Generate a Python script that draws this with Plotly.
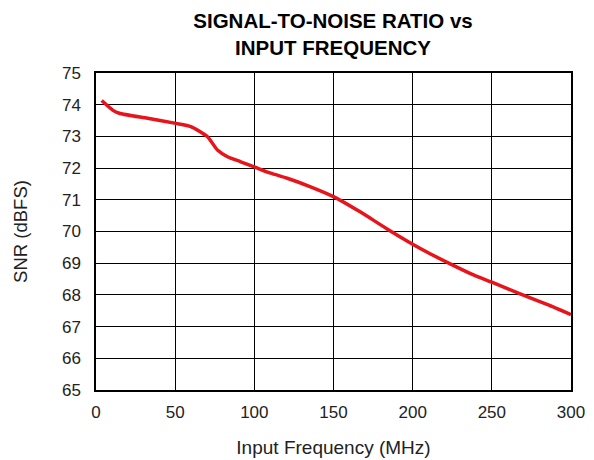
import plotly.graph_objects as go

freq_mhz = [3.6, 10.5, 14.7, 32.6, 50.4, 59.9, 70.4, 76.7, 83, 91.4, 100.8, 110.3,
            120.8, 135.5, 150, 166.8, 183.6, 200, 211, 223.7, 238.4, 250, 267.9,
            284.8, 300]
snr_dbfs = [74.13, 73.83, 73.73, 73.57, 73.41, 73.31, 72.99, 72.57, 72.36, 72.2,
            72.02, 71.84, 71.68, 71.41, 71.1, 70.62, 70.09, 69.6, 69.3, 68.98,
            68.63, 68.4, 68.03, 67.7, 67.38]

x_ticks = [0, 50, 100, 150, 200, 250, 300]
y_ticks = list(range(65, 76))

fig = go.Figure()
fig.add_trace(go.Scatter(x=freq_mhz, y=snr_dbfs, mode="lines",
                         line=dict(color="#e8141c", width=3.5, shape="spline", smoothing=0.6),
                         showlegend=False))

font = "Liberation Sans, Arial, sans-serif"
W, H = 586, 452
fig.update_layout(
    width=W, height=H,
    margin=dict(l=88, r=23, t=65, b=70),
    paper_bgcolor="white", plot_bgcolor="white",
    font=dict(family=font, size=17, color="#222"),
    title=dict(text="<b>SIGNAL-TO-NOISE RATIO vs<br>INPUT FREQUENCY</b>",
               x=325 / W, xanchor="center", yref="container", y=1 - 20 / H, yanchor="top",
               font=dict(family=font, size=20.5, color="black")),
    xaxis=dict(range=[0, 300], tickvals=x_ticks, showgrid=True, gridcolor="black",
               gridwidth=1, showline=True, linecolor="black", linewidth=1.5, mirror=True,
               ticks="", zeroline=False, automargin=False, ticklabelstandoff=6,
               title=dict(text="Input Frequency (MHz)", standoff=20,
                          font=dict(size=19, family=font))),
    yaxis=dict(range=[65, 75], tickvals=y_ticks, showgrid=True, gridcolor="black",
               gridwidth=1, showline=True, linecolor="black", linewidth=1.5, mirror=True,
               ticks="", zeroline=False, automargin=False, ticklabelstandoff=10,
               title=dict(text="SNR (dBFS)", standoff=29,
                          font=dict(size=18.5, family=font))),
)

fig.write_html("out.html")
